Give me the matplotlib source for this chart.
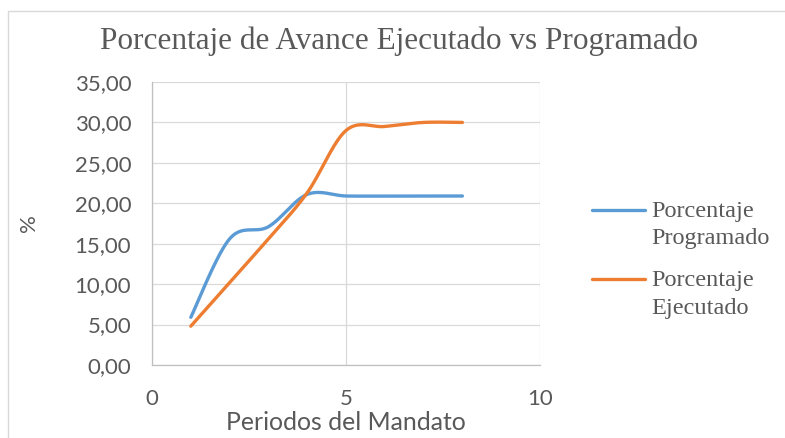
import numpy as np
import matplotlib.pyplot as plt
from matplotlib.patches import Rectangle
from matplotlib.legend_handler import HandlerLine2D

# datos
periodos = [1, 2, 3, 4, 5, 6, 7, 8]
programado = [5.9, 15.6, 17.1, 21.1, 20.9, 20.9, 20.9, 20.9]
ejecutado = [4.8, 10.2, 15.6, 21.3, 29.0, 29.5, 30.0, 30.0]

titulo = 'Porcentaje de Avance Ejecutado vs Programado'
etiquetas = ['Porcentaje\nProgramado', 'Porcentaje\nEjecutado']
colores = ['#5B9BD5', '#ED7D31']
gris = '#595959'


def suavizar(x, y, n=40):
    # curva tipo Excel (Catmull-Rom con Bezier)
    x = np.asarray(x, float)
    y = np.asarray(y, float)
    px = np.concatenate([[x[0]], x, [x[-1]]])
    py = np.concatenate([[y[0]], y, [y[-1]]])
    xs, ys = [], []
    t = np.linspace(0, 1, n)
    for i in range(1, len(px) - 2):
        b0 = (px[i], py[i])
        b3 = (px[i + 1], py[i + 1])
        b1 = (px[i] + (px[i + 1] - px[i - 1]) / 6, py[i] + (py[i + 1] - py[i - 1]) / 6)
        b2 = (px[i + 1] - (px[i + 2] - px[i]) / 6, py[i + 1] - (py[i + 2] - py[i]) / 6)
        for k, arr in ((0, xs), (1, ys)):
            arr.extend((1 - t) ** 3 * b0[k] + 3 * (1 - t) ** 2 * t * b1[k]
                       + 3 * (1 - t) * t ** 2 * b2[k] + t ** 3 * b3[k])
    return np.array(xs), np.array(ys)


class LineaArriba(HandlerLine2D):
    # pone la linea de la leyenda a la altura de la primera linea del texto
    def create_artists(self, legend, orig_handle, xdescent, ydescent, width, height, fontsize, trans):
        arts = super().create_artists(legend, orig_handle, xdescent, ydescent, width, height, fontsize, trans)
        for a in arts:
            a.set_ydata(np.asarray(a.get_ydata()) + 0.6 * fontsize)
        return arts


fig = plt.figure(figsize=(7.85, 4.38), dpi=100)
fig.patches.append(Rectangle((8 / 785, -0.1), 1.2, 1.1 - 11 / 438, transform=fig.transFigure,
                             fill=False, edgecolor='#D9D9D9', linewidth=1.0))

ax = fig.add_axes([152 / 785, 1 - 365 / 438, 388 / 785, 283 / 438])
for serie, color, lab in zip([programado, ejecutado], colores, etiquetas):
    sx, sy = suavizar(periodos, serie)
    ax.plot(sx, sy, color=color, linewidth=2.4, solid_capstyle='round', label=lab)

ax.set_xlim(0, 10)
ax.set_ylim(0, 35)
ax.set_xticks([0, 5, 10])
yt = np.arange(0, 36, 5)
ax.set_yticks(yt)
ax.set_yticklabels([('%.2f' % v).replace('.', ',') for v in yt])
ax.grid(True, color='#D9D9D9', linewidth=0.9)
ax.set_axisbelow(True)
for s in ['top', 'right']:
    ax.spines[s].set_visible(False)
for s in ['left', 'bottom']:
    ax.spines[s].set_color('#BFBFBF')
    ax.spines[s].set_linewidth(0.9)
ax.tick_params(length=0, labelsize=16, labelcolor=gris)
ax.tick_params(axis='y', pad=15)
ax.tick_params(axis='x', pad=17)
for l in ax.get_xticklabels() + ax.get_yticklabels():
    l.set_family('Lato')

ax.set_xlabel('Periodos del Mandato', family='Lato', fontsize=17.8, color=gris)
ax.xaxis.set_label_coords((346 - 152) / 388, (365 - 411) / 283)
ax.set_ylabel('%', family='Lato', fontsize=16, color=gris, va='center')
ax.yaxis.set_label_coords((29 - 152) / 388, (365 - 223) / 283)

fig.text(399 / 785, 1 - 49 / 438, titulo, ha='center', va='baseline',
         family='Liberation Serif', fontsize=22.5, color=gris)

leg = ax.legend(loc='upper left', bbox_to_anchor=(592 / 785, 1 - 200.5 / 438),
                bbox_transform=fig.transFigure, frameon=False,
                prop={'family': 'Liberation Serif', 'size': 17.5}, labelcolor=gris,
                handlelength=2.2, handletextpad=0.25, labelspacing=0.86,
                borderpad=0, borderaxespad=0,
                handler_map={plt.Line2D: LineaArriba()})
for t in leg.get_texts():
    t.set_linespacing(1.42)

fig.savefig('out.png', dpi=100)
